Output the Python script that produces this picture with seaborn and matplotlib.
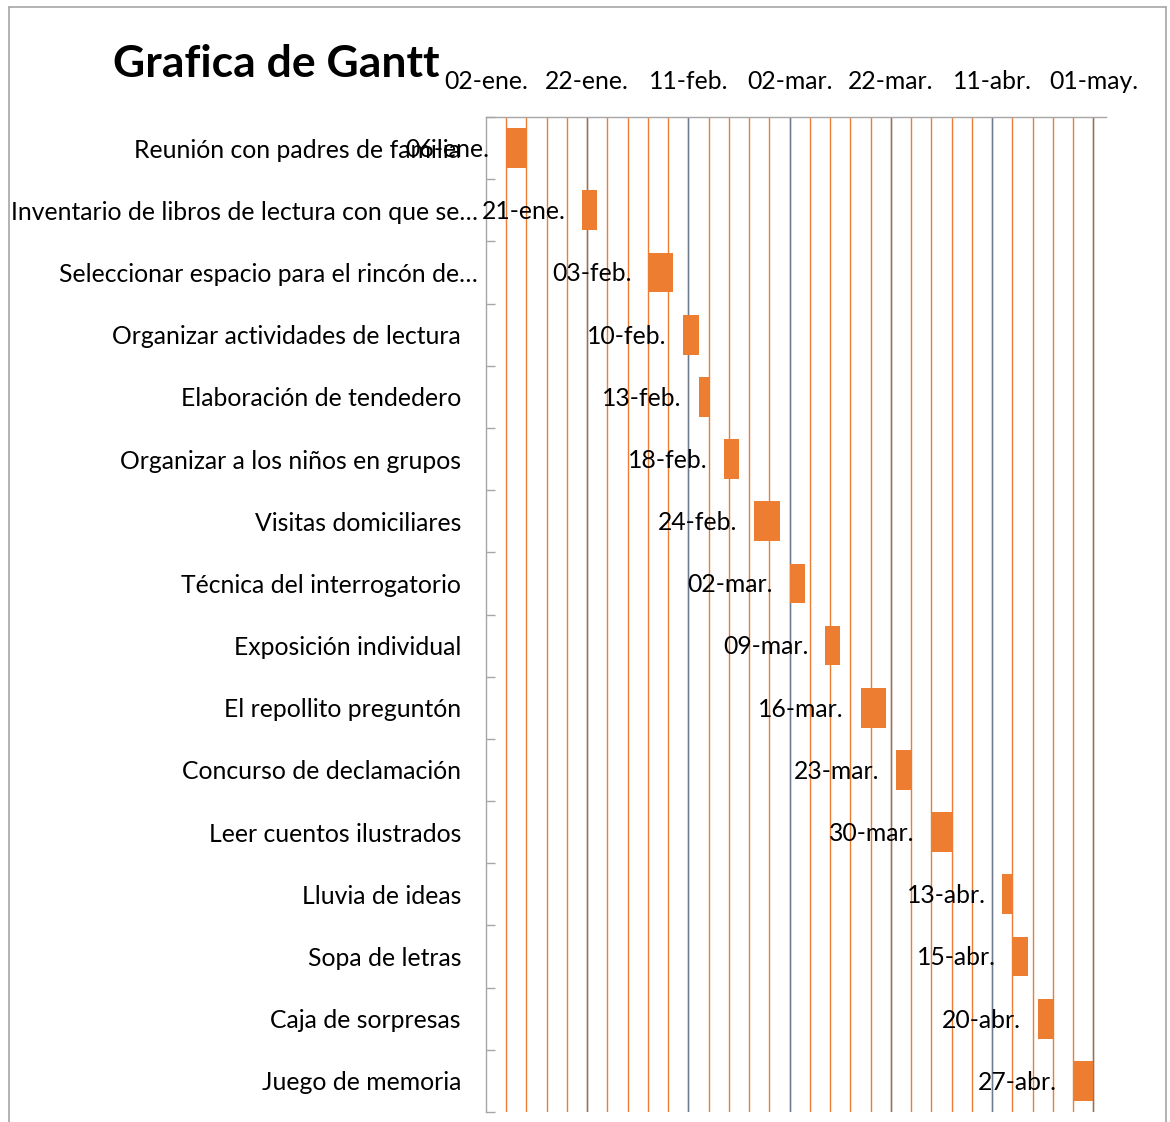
import numpy as np
import pandas as pd
import matplotlib
matplotlib.use("Agg")
import matplotlib.pyplot as plt
import matplotlib.dates as mdates
from matplotlib.lines import Line2D
from matplotlib.ticker import FixedLocator, FuncFormatter
import seaborn as sns

# datos de la grafica
tareas = [
    "Reunión con padres de familia",
    "Inventario de libros de lectura con que se…",
    "Seleccionar espacio para el rincón de…",
    "Organizar actividades de lectura",
    "Elaboración de tendedero",
    "Organizar a los niños en grupos",
    "Visitas domiciliares",
    "Técnica del interrogatorio",
    "Exposición individual",
    "El repollito preguntón",
    "Concurso de declamación",
    "Leer cuentos ilustrados",
    "Lluvia de ideas",
    "Sopa de letras",
    "Caja de sorpresas",
    "Juego de memoria",
]
inicio = ["2016-01-06", "2016-01-21", "2016-02-03", "2016-02-10", "2016-02-13",
          "2016-02-18", "2016-02-24", "2016-03-02", "2016-03-09", "2016-03-16",
          "2016-03-23", "2016-03-30", "2016-04-13", "2016-04-15", "2016-04-20",
          "2016-04-27"]
duracion = [4, 3, 5, 3, 2, 3, 5, 3, 3, 5, 3, 4, 2, 3, 3, 4]

meses = ["ene", "feb", "mar", "abr", "may", "jun", "jul", "ago", "sep", "oct", "nov", "dic"]

def fecha_es(d):
    return f"{d.day:02d}-{meses[d.month - 1]}."

df = pd.DataFrame({"tarea": tareas, "inicio": pd.to_datetime(inicio), "duracion": duracion})
df["inicio_num"] = mdates.date2num(df["inicio"])

naranja = "#ED7D31"
fs = 17.8
sns.set_style("white")
plt.rcParams["font.family"] = ["Lato", "DejaVu Sans"]
plt.rcParams["text.color"] = "black"

fig = plt.figure(figsize=(11.7, 11.22), dpi=100)
ax = fig.add_axes([486 / 1170, 1 - 1112 / 1122, (1106 - 486) / 1170, (1112 - 117) / 1122])

sns.barplot(data=df, y="tarea", x="duracion", left=df["inicio_num"].to_numpy(),
            color=naranja, saturation=1, width=0.64, orient="y", ax=ax, zorder=3,
            linewidth=0)

x0 = mdates.date2num(pd.Timestamp("2016-01-02"))
ax.set_xlim(x0, x0 + 122.5)
ax.set_ylim(len(tareas) - 0.5, -0.5)

mayores = mdates.date2num(pd.date_range("2016-01-02", periods=7, freq="20D"))
menores = mdates.date2num(pd.date_range("2016-01-02", periods=31, freq="4D"))
ax.xaxis.set_major_locator(FixedLocator(mayores))
ax.xaxis.set_minor_locator(FixedLocator(menores))
ax.xaxis.set_major_formatter(FuncFormatter(lambda v, p: fecha_es(mdates.num2date(v))))
ax.xaxis.tick_top()
ax.tick_params(axis="x", which="both", length=0, labelsize=fs, pad=17, labelcolor="black")

ax.grid(False)
for v in menores[1:]:
    ax.axvline(v, color=naranja, lw=1.0, zorder=1)
for v in mayores[1:]:
    ax.axvline(v, color="#6E7B8F", lw=1.0, zorder=2)

ax.yaxis.set_minor_locator(FixedLocator(np.arange(-0.5, len(tareas), 1.0)))
ax.tick_params(axis="y", which="major", length=0, pad=18, labelsize=fs, labelcolor="black")
ax.tick_params(axis="y", which="minor", direction="in", length=6.5, width=1, color="#A6A6A6", left=True)
ax.set_xlabel("")
ax.set_ylabel("")

for s in ["right", "bottom"]:
    ax.spines[s].set_visible(False)
for s in ["top", "left"]:
    ax.spines[s].set_color("#A6A6A6")
    ax.spines[s].set_linewidth(1)

# etiquetas recortadas quedan mas a la derecha
for lab in ax.get_yticklabels():
    if lab.get_text().endswith("…"):
        lab.set_transform(lab.get_transform() + matplotlib.transforms.ScaledTranslation(17 / 100, 0, fig.dpi_scale_trans))

for i, row in df.iterrows():
    ax.annotate(fecha_es(row["inicio"]), xy=(row["inicio_num"], i), xytext=(-12, -1),
                textcoords="offset points", ha="right", va="center", fontsize=fs,
                color="black", zorder=4)

fig.text(113 / 1170, 1 - 77 / 1122, "Grafica de Gantt", fontsize=32, fontweight="bold",
         ha="left", va="baseline", color="black")

borde = "#A6A6A6"
fig.add_artist(Line2D([9 / 1170, 9 / 1170], [0, 1 - 7 / 1122], transform=fig.transFigure, color=borde, lw=1.2))
fig.add_artist(Line2D([9 / 1170, 1166 / 1170], [1 - 7 / 1122, 1 - 7 / 1122], transform=fig.transFigure, color=borde, lw=1.2))
fig.add_artist(Line2D([1166 / 1170, 1166 / 1170], [0, 1 - 7 / 1122], transform=fig.transFigure, color=borde, lw=1.2))

fig.savefig("out.png", dpi=100)
